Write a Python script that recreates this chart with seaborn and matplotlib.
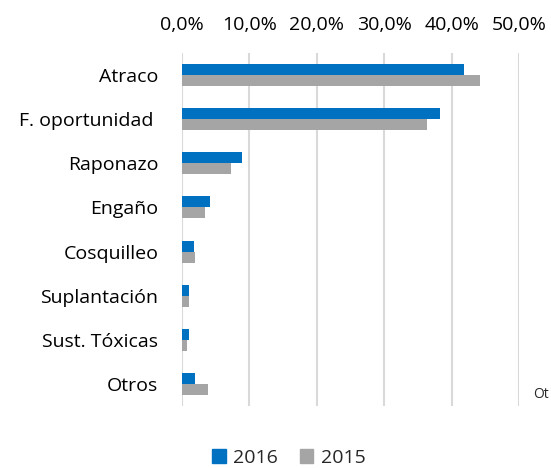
import pandas as pd
import matplotlib
matplotlib.use("Agg")
import matplotlib.pyplot as plt
import matplotlib.ticker as mticker
import seaborn as sns

# Data
categorias = ["Atraco", "F. oportunidad ", "Raponazo", "Engaño", "Cosquilleo",
              "Suplantación", "Sust. Tóxicas", "Otros"]
v2016 = [0.418, 0.383, 0.089, 0.042, 0.018, 0.010, 0.010, 0.020]
v2015 = [0.442, 0.364, 0.073, 0.034, 0.019, 0.011, 0.008, 0.039]
anios = ["2016", "2015"]
colores = ["#0070C0", "#A5A5A5"]

df = pd.DataFrame({
    "cat": categorias * 2,
    "valor": v2016 + v2015,
    "anio": [anios[0]] * len(categorias) + [anios[1]] * len(categorias),
})

sns.set_style("white")
plt.rcParams["font.family"] = ["Open Sans", "DejaVu Sans"]
fs = 14

fig = plt.figure(figsize=(5.51, 4.68), dpi=100)
ax = fig.add_axes([182 / 551, 1 - 406 / 468, (519 - 182) / 551, (406 - 53) / 468])

sns.barplot(data=df, y="cat", x="valor", hue="anio", orient="h",
            palette=colores, width=0.5, linewidth=0, saturation=1,
            legend=False, ax=ax)

ax.set_xlim(0, 0.5)
ax.set_ylim(7.5, -0.5)
ax.xaxis.tick_top()
ax.xaxis.set_major_locator(mticker.MultipleLocator(0.1))
ax.xaxis.set_major_formatter(mticker.FuncFormatter(lambda x, p: f"{x*100:.1f}%".replace(".", ",")))
ax.tick_params(axis="x", length=0, pad=14, labelsize=fs, colors="#000000")
ax.tick_params(axis="y", length=0, pad=17, labelsize=fs, colors="#000000")
ax.set_xlabel("")
ax.set_ylabel("")
ax.grid(axis="x", color="#D9D9D9", linewidth=1.5)
ax.set_axisbelow(True)
for s in ax.spines.values():
    s.set_visible(False)

# stray label at the right edge of the reference
fig.text(533 / 551, 1 - 394 / 468, "Ot", fontsize=10, ha="left", va="center")

handles = [plt.Rectangle((0, 0), 1, 1, color=c) for c in colores]
fig.legend(handles, anios, loc="center", bbox_to_anchor=(289 / 551, 1 - 458 / 468),
           ncol=2, frameon=False, fontsize=fs, handlelength=0.7, handleheight=0.7,
           handletextpad=0.4, columnspacing=1.1)

fig.savefig("out.png", dpi=100)
